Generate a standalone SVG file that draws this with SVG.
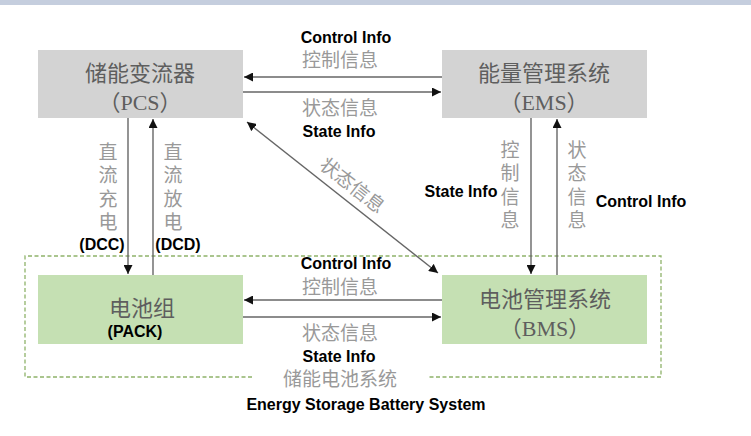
<svg xmlns="http://www.w3.org/2000/svg" width="751" height="436" viewBox="0 0 751 436">
<style>
.box-gray{fill:#d3d3d3;}
.box-green{fill:#c5e0b3;}
.boxtxt{font-family:"Noto Sans CJK SC","Liberation Serif",serif;font-size:22px;fill:#5e5e5e;text-anchor:middle;}
.boxsub{font-family:"Liberation Serif","Noto Sans CJK SC",serif;font-size:22px;fill:#5e5e5e;text-anchor:middle;}
.lbl{font-family:"Noto Sans CJK SC",sans-serif;font-size:19px;fill:#999;text-anchor:middle;}
.vlbl{font-family:"Noto Sans CJK SC",sans-serif;font-size:19px;fill:#999;writing-mode:vertical-rl;letter-spacing:4.5px;}
.en{font-family:"Liberation Sans",Arial,sans-serif;font-weight:bold;font-size:16px;fill:#000;text-anchor:middle;}
.ln{stroke:#666;stroke-width:1.4;fill:none;}
</style>
<defs>
<marker id="ah" viewBox="0 0 10 10" refX="10" refY="5" markerWidth="9" markerHeight="9" markerUnits="userSpaceOnUse" orient="auto-start-reverse">
<path d="M0,0 L10,5 L0,10 z" fill="#111"/>
</marker>
</defs>
<rect x="0" y="0" width="751" height="5" fill="#c5cede"/>
<rect width="751" height="431" y="5" fill="#fff"/>

<g id="battery-system">
<path d="M252,377 L25,377 L25,256 L661,256 L661,377 L427,377" fill="none" stroke="#8fb36a" stroke-width="1.3" stroke-dasharray="4,2.5"/>
<text class="lbl" x="340" y="386" font-size="20">储能电池系统</text>
<text class="en" x="366" y="410">Energy Storage Battery System</text>
</g>

<g id="pcs">
<rect class="box-gray" x="38" y="50" width="205" height="68"/>
<text class="boxtxt" x="140" y="81">储能变流器</text>
<text class="boxsub" x="140" y="110">（PCS）</text>
</g>

<g id="ems">
<rect class="box-gray" x="442" y="50" width="205" height="68"/>
<text class="boxtxt" x="544" y="81">能量管理系统</text>
<text class="boxsub" x="544" y="110">（EMS）</text>
</g>

<g id="pack">
<rect class="box-green" x="38" y="275" width="205" height="69"/>
<text class="boxtxt" x="142" y="316">电池组</text>
<text class="en" x="135" y="337">(PACK)</text>
</g>

<g id="bms">
<rect class="box-green" x="442" y="275" width="205" height="69"/>
<text class="boxtxt" x="545" y="307">电池管理系统</text>
<text class="boxsub" x="545" y="336">（BMS）</text>
</g>

<g id="connectors">
<line class="ln" x1="442" y1="77" x2="244" y2="77" marker-end="url(#ah)"/>
<line class="ln" x1="243" y1="92" x2="441" y2="92" marker-end="url(#ah)"/>
<line class="ln" x1="442" y1="300" x2="244" y2="300" marker-end="url(#ah)"/>
<line class="ln" x1="243" y1="317" x2="441" y2="317" marker-end="url(#ah)"/>
<line class="ln" x1="128" y1="118" x2="128" y2="274" marker-end="url(#ah)"/>
<line class="ln" x1="153" y1="275" x2="153" y2="119" marker-end="url(#ah)"/>
<line class="ln" x1="531" y1="118" x2="531" y2="274" marker-end="url(#ah)"/>
<line class="ln" x1="557" y1="275" x2="557" y2="119" marker-end="url(#ah)"/>
<line class="ln" x1="247" y1="122" x2="438" y2="273" marker-start="url(#ah)" marker-end="url(#ah)"/>

<text class="en" x="346" y="43">Control Info</text>
<text class="lbl" x="340" y="67" font-size="18">控制信息</text>
<text class="lbl" x="340" y="115" font-size="18">状态信息</text>
<text class="en" x="339" y="137">State Info</text>

<text class="en" x="346" y="269">Control Info</text>
<text class="lbl" x="340" y="294" font-size="18">控制信息</text>
<text class="lbl" x="340" y="340" font-size="18">状态信息</text>
<text class="en" x="339" y="362">State Info</text>

<text class="lbl" transform="translate(352,186) rotate(38)" y="6">状态信息</text>

<text class="vlbl" x="108" y="142">直流充电</text>
<text class="en" x="102" y="250">(DCC)</text>
<text class="vlbl" x="173" y="142">直流放电</text>
<text class="en" x="178" y="250">(DCD)</text>

<text class="vlbl" x="510" y="140">控制信息</text>
<text class="en" x="461" y="197">State Info</text>
<text class="vlbl" x="577" y="140">状态信息</text>
<text class="en" x="641" y="207">Control Info</text>
</g>
</svg>
